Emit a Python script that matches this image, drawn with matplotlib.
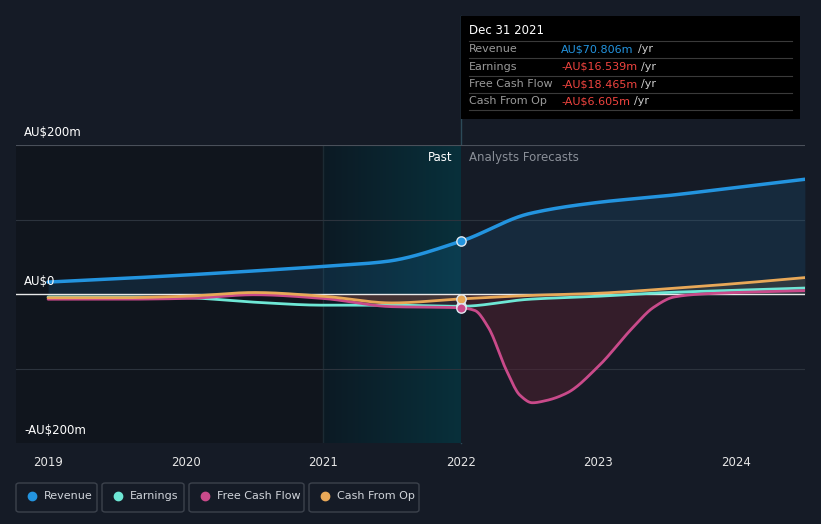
import numpy as np
import matplotlib.pyplot as plt
from matplotlib.patches import FancyBboxPatch, Rectangle
from matplotlib.lines import Line2D
from matplotlib.colors import LinearSegmentedColormap

# data (AU$ m)
rev_x = [2019, 2019.5, 2020, 2020.5, 2021, 2021.45, 2022, 2022.5, 2023, 2023.5, 2024, 2024.5]
revenue = [16, 20.5, 25.5, 31, 37, 43.5, 70.8, 108, 123, 132, 143, 154]

earn_x = [2019, 2019.5, 2020, 2020.5, 2021, 2021.5, 2022, 2022.5, 2023, 2023.5, 2024, 2024.5]
earnings = [-4, -4, -5, -11, -15, -15, -16.5, -7, -3, 2, 5, 8]

fcf_x = [2019, 2019.5, 2020, 2020.5, 2021, 2021.5, 2022, 2022.1, 2022.2, 2022.33, 2022.43,
         2022.52, 2022.62, 2022.77, 2023, 2023.25, 2023.4, 2023.55, 2023.75, 2024, 2024.5]
fcf = [-7, -7, -6, -1, -6, -17, -18.5, -22, -45, -102, -136,
       -146, -143, -133, -97, -45, -18, -4, 0, 2, 4.5]

cfo_x = [2019, 2019.5, 2020, 2020.5, 2021, 2021.5, 2022, 2022.5, 2023, 2023.5, 2024, 2024.5]
cfo = [-5, -5, -3, 2, -3, -12, -6.6, -2, 1, 7, 14, 22]

x_ticks = [2019, 2020, 2021, 2022, 2023, 2024]
past_start, past_end = 2021, 2022

C_REV = '#2394df'
C_EARN = '#6ee7d5'
C_FCF = '#c94a8a'
C_CFO = '#e8a858'
BG = '#151b26'


def smooth(xs, ys, n=600):
    # monotone cubic (pchip) through the read points, only for drawing
    x = np.asarray(xs, float)
    y = np.asarray(ys, float)
    h = np.diff(x)
    d = np.diff(y) / h
    m = np.zeros_like(y)
    for k in range(1, len(x) - 1):
        if d[k - 1] * d[k] > 0:
            w1 = 2 * h[k] + h[k - 1]
            w2 = h[k] + 2 * h[k - 1]
            m[k] = (w1 + w2) / (w1 / d[k - 1] + w2 / d[k])
    m[0] = d[0]
    m[-1] = d[-1]
    xx = np.linspace(x[0], x[-1], n)
    idx = np.clip(np.searchsorted(x, xx) - 1, 0, len(x) - 2)
    t = (xx - x[idx]) / h[idx]
    h00 = 2 * t ** 3 - 3 * t ** 2 + 1
    h10 = t ** 3 - 2 * t ** 2 + t
    h01 = -2 * t ** 3 + 3 * t ** 2
    h11 = t ** 3 - t ** 2
    yy = h00 * y[idx] + h10 * h[idx] * m[idx] + h01 * y[idx + 1] + h11 * h[idx] * m[idx + 1]
    return xx, yy


fig = plt.figure(figsize=(8.21, 5.24), dpi=100, facecolor=BG)
ax = fig.add_axes([16 / 821, 81 / 524, 789 / 821, 298 / 524])
ax.set_facecolor(BG)
ax.set_xlim(2018.767, 2024.501)
ax.set_ylim(-200, 200)

# background bands
ax.axvspan(2018.767, past_start, color='#10151d', zorder=0)
grad = np.linspace(0, 1, 256).reshape(1, -1)
cm = LinearSegmentedColormap.from_list('past', ['#0c1a24', '#08303b'])
ax.imshow(grad, extent=[past_start, past_end, -200, 200], aspect='auto', cmap=cm, zorder=0)
ax.axvline(past_start, color='#1c2a33', lw=1, zorder=1)

# grid
for v in [100, -100]:
    ax.axhline(v, color='#2c333d', lw=0.8, zorder=1)
ax.axhline(200, color='#4a505a', lw=0.8, zorder=1)

rx, ry = smooth(rev_x, revenue)
ex, ey = smooth(earn_x, earnings)
fx, fy = smooth(fcf_x, fcf)
cx, cy = smooth(cfo_x, cfo)

ax.fill_between(rx, ry, 0, color=C_REV, alpha=0.13, lw=0, zorder=2)
ax.fill_between(fx, fy, 0, where=fy < 0, color='#5a2030', alpha=0.45, lw=0, zorder=2)
ax.fill_between(cx, cy, 0, color=C_CFO, alpha=0.12, lw=0, zorder=2)

ax.axhline(0, color='#e8e8e8', lw=1, zorder=3)

ax.plot(ex, ey, color=C_EARN, lw=2, zorder=4, solid_capstyle='round')
ax.plot(fx, fy, color=C_FCF, lw=2, zorder=5, solid_capstyle='round')
ax.plot(cx, cy, color=C_CFO, lw=2, zorder=6, solid_capstyle='round')
ax.plot(rx, ry, color=C_REV, lw=2.5, zorder=7, solid_capstyle='round')

# markers at the past / forecast split
ax.scatter([past_end], [revenue[rev_x.index(past_end)]], s=45, color=C_REV, edgecolor='#e0e8f0', lw=1, zorder=9)
ax.scatter([past_end], [earnings[earn_x.index(past_end)]], s=45, color=C_EARN, edgecolor='#e0e8f0', lw=1, zorder=8)
ax.scatter([past_end], [cfo[cfo_x.index(past_end)]], s=45, color=C_CFO, edgecolor='#e0e8f0', lw=1, zorder=9)
ax.scatter([past_end], [fcf[fcf_x.index(past_end)]], s=45, color=C_FCF, edgecolor='#e0e8f0', lw=1, zorder=9)

ax.set_xticks(x_ticks)
ax.set_xticklabels([str(t) for t in x_ticks], color='#e6e6e6', fontsize=8.5)
ax.tick_params(axis='x', length=0, pad=9)
ax.set_yticks([])
for s in ax.spines.values():
    s.set_visible(False)

ax.text(past_end - 0.06, 192, 'Past', color='#ffffff', fontsize=8.5, ha='right', va='top', zorder=10)
ax.text(past_end + 0.06, 192, 'Analysts Forecasts', color='#8a8f98', fontsize=8.5, ha='left', va='top', zorder=10)

# y labels above grid lines
for v, lab in [(200, 'AU\\$200m'), (0, 'AU\\$0'), (-200, '-AU\\$200m')]:
    yy = ax.transData.transform((0, v))[1]
    fig.text(24 / 821, (yy + 6) / 524, lab, color='#ffffff', fontsize=8.5, va='bottom', ha='left')

# vertical marker line through the tooltip
xpix = ax.transData.transform((past_end, 0))[0] / 821
fig.add_artist(Line2D([xpix, xpix], [81 / 524, 1 - 16 / 524], color='#2c4a58', lw=1, zorder=0))

# tooltip
fig.patches.append(Rectangle((461 / 821, 1 - 119 / 524), 339 / 821, 103 / 524,
                             transform=fig.transFigure, facecolor='#000000', edgecolor='none', zorder=5))
fig.text(469 / 821, 1 - 31 / 524, 'Dec 31 2021', color='#ffffff', fontsize=8.5, va='center', zorder=6)
rows = [('Revenue', 'AU$70.806m', C_REV), ('Earnings', '-AU$16.539m', '#f0443f'),
        ('Free Cash Flow', '-AU$18.465m', '#f0443f'), ('Cash From Op', '-AU$6.605m', '#f0443f')]
fig.canvas.draw()
for k, (name, val, col) in enumerate(rows):
    yl = 1 - (41 + 17.3 * k) / 524
    fig.add_artist(Line2D([469 / 821, 792 / 821], [yl, yl], color='#3a3a3a', lw=0.8, zorder=6))
    yt = 1 - (49.5 + 17.3 * k) / 524
    fig.text(469 / 821, yt, name, color='#9a9a9a', fontsize=8, va='center', zorder=6)
    t = fig.text(561 / 821, yt, val.replace('$', '\\$'), color=col, fontsize=8, va='center', zorder=6)
    bb = t.get_window_extent(renderer=fig.canvas.get_renderer())
    fig.text(bb.x1 / 821 + 4 / 821, yt, '/yr', color='#cccccc', fontsize=8, va='center', zorder=6)
yl = 1 - (41 + 17.3 * 4) / 524
fig.add_artist(Line2D([469 / 821, 792 / 821], [yl, yl], color='#3a3a3a', lw=0.8, zorder=6))

# legend boxes
legend = [('Revenue', C_REV, 16, 97), ('Earnings', C_EARN, 102, 184),
          ('Free Cash Flow', C_FCF, 189, 304), ('Cash From Op', C_CFO, 309, 419)]
for name, col, x0, x1 in legend:
    fig.patches.append(FancyBboxPatch((x0 / 821, 1 - 512 / 524), (x1 - x0) / 821, 29 / 524,
                                      boxstyle='round,pad=0,rounding_size=0.004',
                                      transform=fig.transFigure, facecolor='none',
                                      edgecolor='#3c424c', lw=1))
    fig.add_artist(Line2D([(x0 + 16) / 821], [1 - 496 / 524], marker='o', markersize=6,
                          color=col, lw=0))
    fig.text((x0 + 28) / 821, 1 - 496 / 524, name, color='#d0d4da', fontsize=8, va='center')

fig.savefig('out.png', dpi=100, facecolor=BG)
